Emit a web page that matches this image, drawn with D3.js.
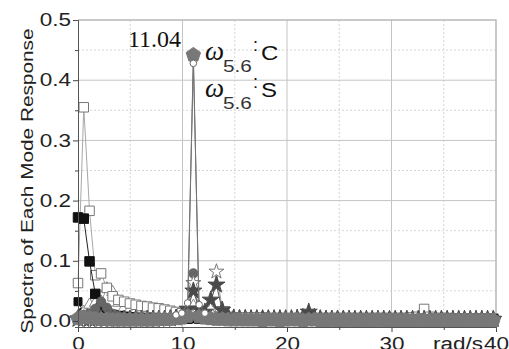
<!DOCTYPE html>
<html>
<head>
<meta charset="utf-8">
<script src="https://cdn.jsdelivr.net/npm/d3@7"></script>
<style>
  body { margin: 0; background: #fff; }
  svg { display: block; }
</style>
</head>
<body>
<svg id="chart" width="509" height="349"></svg>
<script>
// frequency grid (rad/s)
const freq = [
  0, 0.552, 1.104, 1.656, 2.208, 2.76, 3.312, 3.864, 4.416, 4.968,
  5.52, 6.072, 6.624, 7.176, 7.728, 8.28, 8.832, 9.384, 9.936, 10.488,
  11.04, 11.592, 12.144, 12.696, 13.248, 13.8, 14.352, 14.904, 15.456, 16.008,
  16.56, 17.112, 17.664, 18.216, 18.768, 19.32, 19.872, 20.424, 20.976, 21.528,
  22.08, 22.632, 23.184, 23.736, 24.288, 24.84, 25.392, 25.944, 26.496, 27.048,
  27.6, 28.152, 28.704, 29.256, 29.808, 30.36, 30.912, 31.464, 32.016, 32.568,
  33.12, 33.672, 34.224, 34.776, 35.328, 35.88, 36.432, 36.984, 37.536, 38.088,
  38.64, 39.192, 39.744
];

const openSquare = [
  0.063, 0.355, 0.183, 0.076, 0.079, 0.055, 0.041, 0.035, 0.032, 0.029,
  0.027, 0.025, 0.024, 0.022, 0.021, 0.019, 0.017, 0.015, 0.013, 0.010,
  0.012, 0.009, 0.008, 0.008, 0.007, 0.007, 0.007, 0.006, 0.006, 0.006,
  0.006, 0.006, 0.006, 0.005, 0.005, 0.005, 0.005, 0.005, 0.005, 0.005,
  0.005, 0.005, 0.005, 0.005, 0.005, 0.005, 0.005, 0.005, 0.005, 0.005,
  0.005, 0.005, 0.005, 0.005, 0.005, 0.005, 0.005, 0.005, 0.006, 0.007,
  0.020, 0.007, 0.005, 0.005, 0.005, 0.004, 0.004, 0.004, 0.004, 0.004,
  0.004, 0.004, 0.004
];

const blackSquareA = [
  0.172, 0.170, 0.099, 0.045, 0.022, 0.014, 0.010, 0.008, 0.007, 0.006,
  0.005, 0.005, 0.004, 0.004, 0.004, 0.004, 0.004, 0.004, 0.004, 0.004,
  0.005, 0.004, 0.004, 0.003, 0.003, 0.003, 0.003, 0.003, 0.003, 0.003,
  0.003, 0.003, 0.003, 0.003, 0.003, 0.003, 0.003, 0.003, 0.003, 0.003,
  0.003, 0.003, 0.003, 0.003, 0.003, 0.003, 0.003, 0.003, 0.003, 0.003,
  0.003, 0.003, 0.003, 0.003, 0.003, 0.003, 0.003, 0.003, 0.003, 0.003,
  0.003, 0.003, 0.003, 0.003, 0.003, 0.003, 0.003, 0.003, 0.003, 0.003,
  0.003, 0.003, 0.003
];

const blackSquareB = [
  0.032, 0.014, 0.008, 0.006, 0.005, 0.004, 0.004, 0.003, 0.003, 0.003,
  0.003, 0.003, 0.003, 0.003, 0.003, 0.003, 0.003, 0.003, 0.003, 0.003,
  0.004, 0.003, 0.003, 0.003, 0.003, 0.003, 0.003, 0.003, 0.003, 0.003,
  0.003, 0.003, 0.003, 0.003, 0.003, 0.003, 0.003, 0.003, 0.003, 0.003,
  0.003, 0.003, 0.003, 0.003, 0.003, 0.003, 0.003, 0.003, 0.003, 0.003,
  0.003, 0.003, 0.003, 0.003, 0.003, 0.003, 0.003, 0.003, 0.003, 0.003,
  0.003, 0.003, 0.003, 0.003, 0.003, 0.003, 0.003, 0.003, 0.003, 0.003,
  0.003, 0.003, 0.003
];

const openTriangle = [
  0.008, 0.015, 0.027, 0.030, 0.032, 0.054, 0.048, 0.030, 0.022, 0.019,
  0.017, 0.015, 0.013, 0.012, 0.011, 0.010, 0.010, 0.010, 0.012, 0.018,
  0.025, 0.016, 0.012, 0.010, 0.009, 0.008, 0.008, 0.007, 0.007, 0.006,
  0.006, 0.006, 0.006, 0.006, 0.005, 0.005, 0.005, 0.005, 0.005, 0.005,
  0.005, 0.005, 0.005, 0.005, 0.005, 0.005, 0.005, 0.005, 0.004, 0.004,
  0.004, 0.004, 0.004, 0.004, 0.004, 0.004, 0.004, 0.004, 0.004, 0.004,
  0.004, 0.004, 0.004, 0.004, 0.004, 0.004, 0.004, 0.004, 0.004, 0.004,
  0.004, 0.004, 0.004
];

const grayCircle = [
  0.006, 0.010, 0.012, 0.020, 0.032, 0.022, 0.012, 0.008, 0.006, 0.005,
  0.005, 0.004, 0.004, 0.004, 0.004, 0.004, 0.005, 0.005, 0.006, 0.010,
  0.079, 0.010, 0.006, 0.005, 0.005, 0.004, 0.004, 0.004, 0.004, 0.004,
  0.004, 0.004, 0.004, 0.004, 0.004, 0.004, 0.004, 0.004, 0.004, 0.004,
  0.004, 0.004, 0.004, 0.004, 0.004, 0.004, 0.004, 0.004, 0.004, 0.004,
  0.003, 0.003, 0.003, 0.003, 0.003, 0.003, 0.003, 0.003, 0.003, 0.003,
  0.003, 0.003, 0.003, 0.003, 0.003, 0.003, 0.003, 0.003, 0.003, 0.003,
  0.003, 0.003, 0.003
];

const openStar = [
  0.005, 0.005, 0.005, 0.005, 0.005, 0.005, 0.005, 0.005, 0.005, 0.005,
  0.005, 0.005, 0.005, 0.005, 0.005, 0.005, 0.005, 0.006, 0.008, 0.020,
  0.063, 0.015, 0.010, 0.020, 0.082, 0.020, 0.010, 0.007, 0.006, 0.006,
  0.005, 0.005, 0.005, 0.005, 0.005, 0.005, 0.005, 0.005, 0.005, 0.005,
  0.005, 0.005, 0.005, 0.005, 0.005, 0.005, 0.005, 0.005, 0.004, 0.004,
  0.004, 0.004, 0.004, 0.004, 0.004, 0.004, 0.004, 0.004, 0.004, 0.004,
  0.004, 0.004, 0.004, 0.004, 0.004, 0.004, 0.004, 0.004, 0.004, 0.004,
  0.004, 0.004, 0.004
];

const darkStar = [
  0.003, 0.003, 0.003, 0.003, 0.003, 0.003, 0.003, 0.003, 0.003, 0.003,
  0.003, 0.003, 0.003, 0.003, 0.003, 0.003, 0.004, 0.005, 0.008, 0.020,
  0.050, 0.020, 0.015, 0.035, 0.060, 0.018, 0.008, 0.005, 0.004, 0.004,
  0.004, 0.004, 0.004, 0.004, 0.004, 0.004, 0.004, 0.004, 0.005, 0.006,
  0.015, 0.006, 0.004, 0.003, 0.003, 0.003, 0.003, 0.003, 0.003, 0.003,
  0.003, 0.003, 0.003, 0.003, 0.003, 0.003, 0.003, 0.003, 0.003, 0.003,
  0.003, 0.003, 0.003, 0.003, 0.003, 0.003, 0.003, 0.003, 0.003, 0.003,
  0.003, 0.003, 0.003
];

const grayPentagon = [
  0.004, 0.006, 0.005, 0.004, 0.003, 0.003, 0.002, 0.002, 0.002, 0.002,
  0.002, 0.002, 0.002, 0.002, 0.003, 0.003, 0.003, 0.004, 0.005, 0.008,
  0.442, 0.007, 0.005, 0.004, 0.003, 0.003, 0.002, 0.002, 0.002, 0.002,
  0.002, 0.002, 0.001, 0.002, 0.002, 0.001, 0.002, 0.002, 0.002, 0.001,
  0.002, 0.002, 0.001, 0.001, 0.002, 0.001, 0.001, 0.002, 0.001, 0.001,
  0.001, 0.001, 0.002, 0.001, 0.001, 0.001, 0.001, 0.001, 0.001, 0.001,
  0.001, 0.001, 0.001, 0.001, 0.001, 0.001, 0.001, 0.001, 0.001, 0.001,
  0.001, 0.001, 0.001
];

const whiteCircle = [
  0.004, 0.004, 0.004, 0.004, 0.004, 0.004, 0.004, 0.004, 0.005, 0.005,
  0.005, 0.005, 0.005, 0.006, 0.006, 0.007, 0.008, 0.010, 0.013, 0.030,
  0.428, 0.027, 0.013, 0.008, 0.006, 0.005, 0.005, 0.004, 0.004, 0.004,
  0.004, 0.004, 0.004, 0.004, 0.004, 0.004, 0.004, 0.004, 0.004, 0.004,
  0.004, 0.004, 0.004, 0.004, 0.004, 0.004, 0.004, 0.004, 0.003, 0.003,
  0.003, 0.003, 0.003, 0.003, 0.003, 0.003, 0.003, 0.003, 0.003, 0.003,
  0.003, 0.003, 0.003, 0.003, 0.003, 0.003, 0.003, 0.003, 0.003, 0.003,
  0.003, 0.003, 0.003
];

const xTicks = [0, 10, 20, 30, 40];
const yTicks = [0, 0.1, 0.2, 0.3, 0.4, 0.5];
const peakLabel = "11.04";
const xUnit = "rad/s";
const yTitle = "Spectra of Each Mode Response";

// regular pentagon symbol, d3.symbol has none
const symbolPentagon = {
  draw(context, size) {
    const r = Math.sqrt(size / 2.3776);
    for (let i = 0; i < 5; i++) {
      const a = -Math.PI / 2 + i * 2 * Math.PI / 5;
      if (i === 0) context.moveTo(r * Math.cos(a), r * Math.sin(a));
      else context.lineTo(r * Math.cos(a), r * Math.sin(a));
    }
    context.closePath();
  }
};

// drawing order: later series sit on top
const series = [
  { values: blackSquareB, type: d3.symbolSquare, size: 64, fill: "#111", stroke: "#111", line: "#222" },
  { values: openTriangle, type: d3.symbolTriangle, size: 60, fill: "#fff", stroke: "#888", line: "#999" },
  { values: openSquare, type: d3.symbolSquare, size: 90, fill: "#fff", stroke: "#777", line: "#a8a8a8" },
  { values: blackSquareA, type: d3.symbolSquare, size: 90, fill: "#111", stroke: "#111", line: "#222" },
  { values: grayCircle, type: d3.symbolCircle, size: 70, fill: "#666", stroke: "#666", line: "#666" },
  { values: openStar, type: d3.symbolStar, size: 70, fill: "#fff", stroke: "#777", line: "#999" },
  { values: darkStar, type: d3.symbolStar, size: 90, fill: "#4a4a4a", stroke: "#4a4a4a", line: "#555" },
  { values: grayPentagon, type: symbolPentagon, size: 135, fill: "#787878", stroke: "#787878", line: "#666" },
  { values: whiteCircle, type: d3.symbolCircle, size: 34, fill: "#fff", stroke: "#666", line: "#777", above: 0.009 }
];

const svg = d3.select("#chart");
const plotLeft = 78, plotRight = 496, plotTop = 20, plotBottom = 327;

const x = d3.scaleLinear().domain([0, 40]).range([plotLeft, plotRight]);
const y = d3.scaleLinear().domain([-0.01, 0.5]).range([plotBottom, plotTop]);

// stretch sans text wider, like the original export
function widen(sel, k) {
  sel.each(function () {
    const w = this.getComputedTextLength();
    d3.select(this).attr("textLength", w * k).attr("lengthAdjust", "spacingAndGlyphs");
  });
}

// grid
const grid = svg.append("g");
grid.selectAll(".vmaj").data([10, 20, 30]).join("line")
  .attr("x1", d => x(d)).attr("x2", d => x(d)).attr("y1", plotTop).attr("y2", plotBottom)
  .attr("stroke", "#c4c4c4").attr("stroke-width", 1);
grid.selectAll(".vmin").data([5, 15, 25, 35]).join("line")
  .attr("x1", d => x(d)).attr("x2", d => x(d)).attr("y1", plotTop).attr("y2", plotBottom)
  .attr("stroke", "#d6d6d6").attr("stroke-width", 1).attr("stroke-dasharray", "2,2");
grid.selectAll(".hmaj").data([0.1, 0.2, 0.3, 0.4]).join("line")
  .attr("x1", plotLeft).attr("x2", plotRight).attr("y1", d => y(d)).attr("y2", d => y(d))
  .attr("stroke", "#c4c4c4").attr("stroke-width", 1);
grid.selectAll(".hmin").data([0.05, 0.15, 0.25, 0.35, 0.45]).join("line")
  .attr("x1", plotLeft).attr("x2", plotRight).attr("y1", d => y(d)).attr("y2", d => y(d))
  .attr("stroke", "#d6d6d6").attr("stroke-width", 1).attr("stroke-dasharray", "2,2");

// frame top and right
svg.append("path")
  .attr("d", `M${plotLeft},${plotTop}H${plotRight}V${plotBottom}`)
  .attr("fill", "none").attr("stroke", "#b8b8b8").attr("stroke-width", 1.5);

// data
svg.append("clipPath").attr("id", "clip")
  .append("rect").attr("x", 0).attr("y", 0).attr("width", 509).attr("height", plotBottom);

const plot = svg.append("g").attr("clip-path", "url(#clip)");
const line = d3.line().x((d, i) => x(freq[i])).y(d => y(d));

series.forEach(s => {
  const g = plot.append("g");
  g.append("path")
    .attr("d", line(s.values))
    .attr("fill", "none")
    .attr("stroke", s.line)
    .attr("stroke-width", 1);
  // near-zero symbols of the white-circle series stay buried in the band
  const pts = s.values.map((v, i) => [freq[i], v])
    .filter(p => s.above === undefined || p[1] > s.above);
  g.selectAll("path.m")
    .data(pts)
    .join("path")
    .attr("class", "m")
    .attr("transform", d => `translate(${x(d[0])},${y(d[1])})`)
    .attr("d", d3.symbol().type(s.type).size(s.size))
    .attr("fill", s.fill)
    .attr("stroke", s.stroke)
    .attr("stroke-width", 1);
});

// axes
const tickFont = "'Liberation Sans', Arial, sans-serif";

const yAxis = svg.append("g").attr("transform", `translate(${plotLeft},0)`)
  .call(d3.axisLeft(y).tickValues(yTicks).tickFormat(d3.format(".1f"))
    .tickSize(5).tickSizeOuter(0).tickPadding(2));
yAxis.append("g").call(d3.axisLeft(y).tickValues([0.05, 0.15, 0.25, 0.35, 0.45])
  .tickSize(3).tickFormat(""));

const xAxis = svg.append("g").attr("transform", `translate(0,${plotBottom})`)
  .call(d3.axisBottom(x).tickValues(xTicks).tickFormat(d3.format("d"))
    .tickSize(5).tickSizeOuter(0).tickPadding(5));
xAxis.append("g").call(d3.axisBottom(x).tickValues([5, 15, 25, 35])
  .tickSize(3).tickFormat(""));

svg.selectAll(".domain").attr("stroke", "#555");
svg.selectAll(".tick line").attr("stroke", "#444");
svg.selectAll(".tick text")
  .attr("font-family", tickFont)
  .attr("font-size", 18)
  .attr("fill", "#222")
  .call(widen, 1.25);

svg.append("text")
  .attr("x", 483).attr("y", 350)
  .attr("text-anchor", "end")
  .attr("font-family", tickFont).attr("font-size", 18).attr("fill", "#222")
  .text(xUnit)
  .call(widen, 1.25);

// y title
svg.append("text")
  .attr("transform", "translate(33,181) rotate(-90)")
  .attr("text-anchor", "middle")
  .attr("font-family", tickFont).attr("font-size", 17).attr("fill", "#222")
  .attr("textLength", 305).attr("lengthAdjust", "spacingAndGlyphs")
  .text(yTitle);

// peak annotation
svg.append("text")
  .attr("x", 128).attr("y", 47)
  .attr("font-family", "'Liberation Serif', 'Times New Roman', serif")
  .attr("font-size", 24).attr("fill", "#111")
  .text(peakLabel);

const modeLabels = [
  { base: 60, letter: "C" },
  { base: 97, letter: "S" }
];
modeLabels.forEach(m => {
  svg.append("text")
    .attr("x", 205).attr("y", m.base)
    .attr("font-family", "'Liberation Serif', 'Times New Roman', serif")
    .attr("font-style", "italic").attr("font-size", 27).attr("fill", "#111")
    .text("ω");
  svg.append("text")
    .attr("x", 223).attr("y", m.base + 12)
    .attr("font-family", tickFont).attr("font-size", 17).attr("fill", "#333")
    .text("5.6")
    .call(widen, 1.22);
  svg.append("text")
    .attr("x", 253).attr("y", m.base - 9)
    .attr("font-family", tickFont).attr("font-size", 18).attr("fill", "#111")
    .text(":");
  svg.append("text")
    .attr("x", 261).attr("y", m.base)
    .attr("font-family", tickFont).attr("font-size", 20).attr("fill", "#111")
    .text(m.letter)
    .call(widen, 1.2);
});
</script>
</body>
</html>
